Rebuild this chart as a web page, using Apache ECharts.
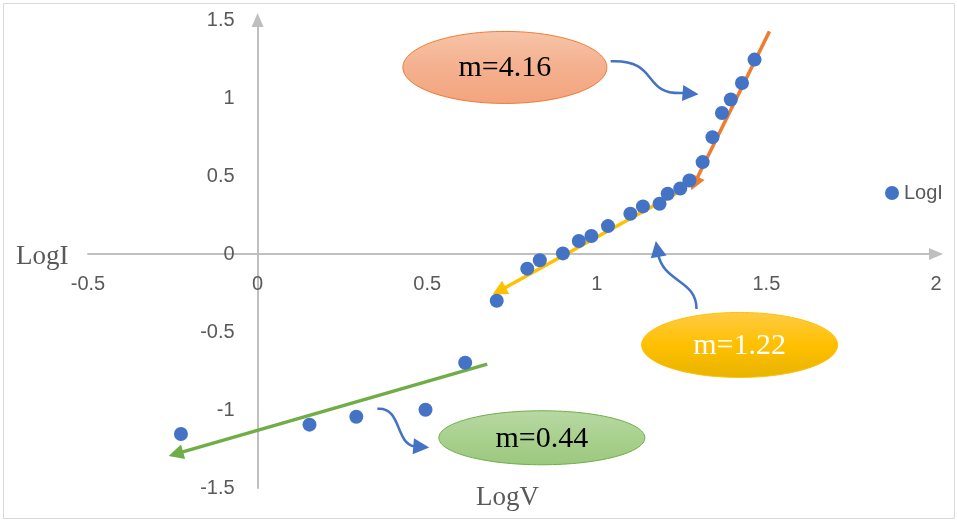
<!DOCTYPE html>
<html>
<head>
<meta charset="utf-8">
<script src="https://cdn.jsdelivr.net/npm/echarts@6/dist/echarts.min.js"></script>
<style>
  html, body { margin: 0; padding: 0; background: #fff; }
  #chart { width: 957px; height: 522px; }
</style>
</head>
<body>
<div id="chart"></div>
<script>
// Measured points: log of voltage vs log of current
const logV = [-0.226, 0.153, 0.291, 0.495, 0.612, 0.705, 0.795, 0.832, 0.900, 0.947, 0.984, 1.033,
              1.099, 1.136, 1.185, 1.209, 1.246, 1.273, 1.312, 1.341, 1.369, 1.395, 1.428, 1.465];
const logI = [-1.154, -1.094, -1.043, -0.998, -0.697, -0.300, -0.094, -0.040, 0.004, 0.083, 0.115, 0.179,
              0.258, 0.305, 0.322, 0.386, 0.420, 0.471, 0.589, 0.749, 0.904, 0.990, 1.096, 1.246];

// Axis ticks
const xTicks = [-0.5, 0, 0.5, 1, 1.5, 2];
const yTicks = [-1.5, -1, -0.5, 0, 0.5, 1, 1.5];

// Slope arrows: [start, end] in (LogV, LogI)
const slopeHigh = [[1.509, 1.427], [1.288, 0.452]];
const slopeMid = [[1.241, 0.397], [0.712, -0.237]];
const slopeLow = [[0.677, -0.706], [-0.241, -1.281]];

// Slope callouts: label and centre in (LogV, LogI)
const calloutLabels = ['m=4.16', 'm=1.22', 'm=0.44'];
const calloutCentres = [[0.729, 1.196], [1.421, -0.583], [0.838, -1.178]];

// Curved pointer arrows: [start, ctrl1, ctrl2, end, tip] in (LogV, LogI)
const pointers = [
  [[1.041, 1.235], [1.188, 1.248], [1.129, 1.017], [1.255, 1.032], [1.300, 1.024]],
  [[1.294, -0.352], [1.294, -0.160], [1.194, -0.186], [1.180, 0.010], [1.174, 0.083]],
  [[0.353, -0.992], [0.424, -0.979], [0.406, -1.209], [0.461, -1.233], [0.506, -1.241]]
];

const chart = echarts.init(document.getElementById('chart'));
const grey = '#595959';
const axisGrey = '#bfbfbf';
const tickFont = 'Liberation Sans';
const tickSize = 20;

// Plot area
const gridBox = { left: 88, right: 21, top: 20, bottom: 34 };
const plotW = 957 - gridBox.left - gridBox.right;
const plotH = 522 - gridBox.top - gridBox.bottom;
const xMin = xTicks[0], xMax = xTicks[xTicks.length - 1];
const yMin = yTicks[0], yMax = yTicks[yTicks.length - 1];
// Shift each axis (line and labels together) so it crosses the other at zero
const xAxisShift = -plotH * (0 - yMin) / (yMax - yMin);
const yAxisShift = -plotW * (0 - xMin) / (xMax - xMin);

function arrowLine(pts, color) {
  return {
    type: 'lines',
    coordinateSystem: 'cartesian2d',
    polyline: false,
    silent: true,
    symbol: ['none', 'triangle'],
    symbolSize: [13, 15],
    lineStyle: { color: color, width: 3.5, opacity: 1 },
    data: [{ coords: pts }],
    z: 3
  };
}

chart.setOption({
  animation: false,
  backgroundColor: '#fff',
  grid: Object.assign({ containLabel: false }, gridBox),
  legend: {
    data: ['LogI'],
    left: 880, top: 178,
    icon: 'circle',
    itemWidth: 14, itemHeight: 14, itemGap: 5,
    textStyle: { color: grey, fontSize: tickSize, fontFamily: tickFont }
  },
  xAxis: {
    type: 'value',
    min: xMin, max: xMax, interval: 0.5,
    position: 'bottom',
    offset: xAxisShift,
    axisLine: { onZero: false, lineStyle: { color: axisGrey, width: 2 },
                symbol: ['none', 'triangle'], symbolSize: [12, 14] },
    axisTick: { show: false },
    splitLine: { show: false },
    axisLabel: { color: grey, fontSize: tickSize, fontFamily: tickFont, margin: 20,
                 formatter: v => String(v) }
  },
  yAxis: {
    type: 'value',
    min: yMin, max: yMax, interval: 0.5,
    position: 'left',
    offset: yAxisShift,
    axisLine: { onZero: false, lineStyle: { color: axisGrey, width: 2 },
                symbol: ['none', 'triangle'], symbolSize: [12, 14] },
    axisTick: { show: false },
    splitLine: { show: false },
    axisLabel: { color: grey, fontSize: tickSize, fontFamily: tickFont, margin: 23,
                 formatter: v => String(v) }
  },
  series: [
    {
      name: 'LogI',
      type: 'scatter',
      symbolSize: 14,
      itemStyle: { color: '#4472c4', opacity: 1 },
      data: logV.map((v, i) => [v, logI[i]]),
      z: 4
    },
    arrowLine(slopeHigh, '#ed7d31'),
    arrowLine(slopeMid, '#ffc000'),
    arrowLine(slopeLow, '#70ad47')
  ]
});

// Overlay: frame, axis titles, slope callouts and pointer arrows
const toPx = p => chart.convertToPixel({ gridIndex: 0 }, p);

const calloutStyles = [
  { fill: ['#f7c4a8', '#f4b08f', '#f3a47e'], stroke: '#ed7d31', text: '#000', rx: 102, ry: 36 },
  { fill: ['#ffcb45', '#ffc000', '#e8b300'], stroke: '#ffc000', text: '#fff', rx: 98, ry: 32.5 },
  { fill: ['#b8d8a4', '#a9d18e', '#9cc87f'], stroke: '#70ad47', text: '#000', rx: 103, ry: 27 }
];

const graphics = [
  { type: 'rect', shape: { x: 3.5, y: 3.5, width: 951, height: 515 },
    style: { fill: 'none', stroke: '#d9d9d9', lineWidth: 1 }, z: 0, silent: true },
  { type: 'text', left: 16, top: 243,
    style: { text: 'LogI', font: '27px "Liberation Serif"', fill: grey }, z: 10 },
  { type: 'text', left: 476, top: 484,
    style: { text: 'LogV', font: '27px "Liberation Serif"', fill: grey }, z: 10 }
];

calloutCentres.forEach((c, i) => {
  const p = toPx(c);
  const s = calloutStyles[i];
  graphics.push({
    type: 'ellipse',
    shape: { cx: p[0], cy: p[1], rx: s.rx, ry: s.ry },
    style: {
      fill: new echarts.graphic.LinearGradient(0, 0, 0, 1, [
        { offset: 0, color: s.fill[0] },
        { offset: 0.5, color: s.fill[1] },
        { offset: 1, color: s.fill[2] }
      ]),
      stroke: s.stroke, lineWidth: 1
    },
    z: 20
  });
  graphics.push({
    type: 'text',
    x: p[0], y: p[1] + 1,
    style: {
      text: calloutLabels[i],
      font: '30px "Liberation Serif"',
      fill: s.text,
      align: 'center', verticalAlign: 'middle'
    },
    z: 21
  });
});

pointers.forEach(pt => {
  const [a, c1, c2, b, tip] = pt.map(toPx);
  graphics.push({
    type: 'bezierCurve',
    shape: { x1: a[0], y1: a[1], cpx1: c1[0], cpy1: c1[1], cpx2: c2[0], cpy2: c2[1], x2: b[0], y2: b[1] },
    style: { stroke: '#4472c4', lineWidth: 2.5, fill: 'none' },
    z: 15
  });
  // arrowhead pointing from curve end towards tip
  const dx = tip[0] - b[0], dy = tip[1] - b[1];
  const len = Math.hypot(dx, dy) || 1;
  const ux = dx / len, uy = dy / len;
  const headLen = 16, halfW = 8;
  const bx = tip[0] - ux * headLen, by = tip[1] - uy * headLen;
  graphics.push({
    type: 'polygon',
    shape: { points: [[tip[0], tip[1]], [bx - uy * halfW, by + ux * halfW], [bx + uy * halfW, by - ux * halfW]] },
    style: { fill: '#4472c4' },
    z: 15
  });
});

chart.setOption({ graphic: graphics });
</script>
</body>
</html>
